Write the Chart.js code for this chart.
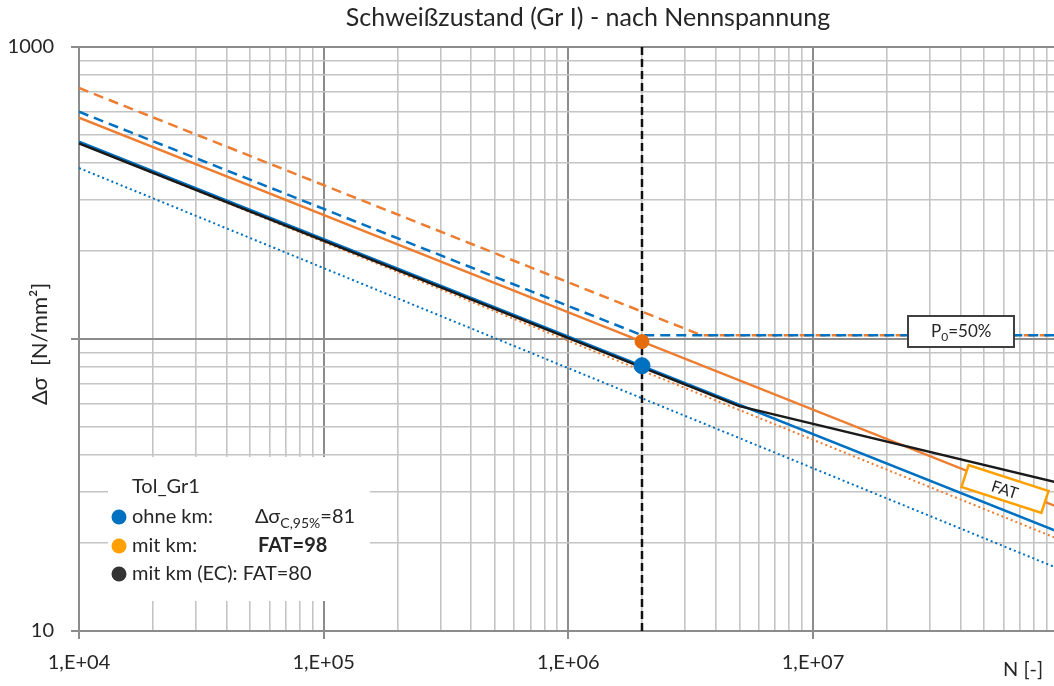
<!DOCTYPE html>
<html>
<head>
<meta charset="utf-8">
<script src="https://cdn.jsdelivr.net/npm/chart.js@4"></script>
<style>
  html, body { margin: 0; padding: 0; background: #fff; overflow: hidden; }
  #wrap { width: 1054px; height: 686px; }
</style>
</head>
<body>
<div id="wrap"><canvas id="snChart" width="1054" height="686"></canvas></div>
<script>
// values (N in cycles, stress range in N/mm²)
const nEnds = [1e4, 1e8];
const ohneKm95 = [474, 21.9];          // blue solid, Δσc,95% = 81
const mitKm95 = [573, 26.6];           // orange solid, FAT 98
const ecN = [1e4, 5e6, 1e8];
const ecFat80 = [468, 58.9, 32.2];     // black, EC curve with knee
const ohneKm50N = [1e4, 2e6, 1e8];
const ohneKm50 = [600, 103, 103];      // blue dashed, P0 = 50%
const mitKm50N = [1e4, 3.5e6, 1e8];
const mitKm50 = [724, 103, 103];       // orange dashed
const ohneKmDotted = [385, 16.4];      // blue dotted
const mitKmDotted = [469, 20.7];       // orange dotted
const nRef = 2e6;
const fatOhneKm = 81;
const fatMitKm = 98;
const xRange = [1e4, 9.66e7];          // axis stops just short of 1E+08
const yRange = [10, 1000];

const xTickLabels = { 1e4: '1,E+04', 1e5: '1,E+05', 1e6: '1,E+06', 1e7: '1,E+07' };
const yTickLabels = { 10: '10', 1000: '1000' };

const BLUE = '#0070c0';
const ORANGE = '#ed7d31';
const FONT = 'Lato, "Open Sans", sans-serif';

const pts = (xs, ys) => xs.map((x, i) => ({ x: x, y: ys[i] }));

function isDecade(v) {
    const l = Math.log10(v);
    return Math.abs(l - Math.round(l)) < 1e-6;
}

// 1..9 x 10^n gridlines between min and max
function logTicks(min, max) {
    const out = [];
    for (let e = Math.round(Math.log10(min)); Math.pow(10, e) <= max; e++) {
        for (let m = 1; m < 10; m++) {
            const v = m * Math.pow(10, e);
            if (v <= max * 1.0001) out.push({ value: v });
        }
    }
    return out;
}

const gridStyle = {
    color: c => isDecade(c.tick.value) ? '#8c8c8c' : '#c4c4c4',
    lineWidth: c => isDecade(c.tick.value) ? 2 : 1.6,
    tickColor: c => isDecade(c.tick.value) ? '#8c8c8c' : 'rgba(0,0,0,0)',
    tickLength: 8,
    drawTicks: true
};

// title, legend box and the two labels on the chart
const decorations = {
    id: 'decorations',
    afterDatasetsDraw(chart) {
        const ctx = chart.ctx;
        ctx.save();

        ctx.fillStyle = '#262626';
        ctx.font = '25px ' + FONT;
        ctx.textAlign = 'center';
        ctx.textBaseline = 'middle';
        ctx.fillText('Schweißzustand (Gr I) - nach Nennspannung', 588, 18);

        ctx.font = '20px ' + FONT;
        ctx.textAlign = 'left';
        ctx.fillText('N [-]', 1003, 670);

        ctx.save();
        ctx.translate(40, 344);
        ctx.rotate(-Math.PI / 2);
        ctx.textAlign = 'center';
        ctx.font = '22px ' + FONT;
        ctx.fillText('Δσ  [N/mm²]', 0, 0);
        ctx.restore();

        // legend box
        ctx.fillStyle = '#fff';
        ctx.fillRect(108, 457, 262, 144);
        ctx.fillStyle = '#262626';
        ctx.textAlign = 'left';
        ctx.font = '20px ' + FONT;
        ctx.fillText('Tol_Gr1', 132, 487);
        const rows = [
            { y: 517, color: BLUE, text: 'ohne km:' },
            { y: 546, color: '#ffa000', text: 'mit km:' },
            { y: 574, color: '#333333', text: 'mit km (EC): FAT=80' }
        ];
        rows.forEach(r => {
            ctx.fillStyle = r.color;
            ctx.beginPath();
            ctx.arc(119, r.y, 7.5, 0, Math.PI * 2);
            ctx.fill();
            ctx.fillStyle = '#262626';
            ctx.font = '20px ' + FONT;
            ctx.fillText(r.text, 132, r.y);
        });
        ctx.font = '20px ' + FONT;
        let x = 255;
        ctx.fillText('Δσ', x, 517);
        x += ctx.measureText('Δσ').width;
        ctx.font = '14px ' + FONT;
        ctx.fillText('C,95%', x, 523);
        x += ctx.measureText('C,95%').width;
        ctx.font = '20px ' + FONT;
        ctx.fillText('=' + fatOhneKm, x, 517);
        ctx.font = 'bold 20px ' + FONT;
        ctx.fillText('FAT=' + fatMitKm, 258, 546);

        // P0 = 50% box
        ctx.fillStyle = '#fff';
        ctx.fillRect(908, 316, 106, 31);
        ctx.strokeStyle = '#404040';
        ctx.lineWidth = 2;
        ctx.strokeRect(908, 316, 106, 31);
        ctx.fillStyle = '#262626';
        ctx.font = '17px ' + FONT;
        let px = 931;
        ctx.fillText('P', px, 332);
        px += ctx.measureText('P').width;
        ctx.font = '12px ' + FONT;
        ctx.fillText('0', px, 337);
        px += ctx.measureText('0').width;
        ctx.font = '17px ' + FONT;
        ctx.fillText('=50%', px, 332);

        // FAT box along the lines
        ctx.save();
        ctx.translate(1005, 489);
        ctx.rotate(18 * Math.PI / 180);
        ctx.fillStyle = '#fff';
        ctx.fillRect(-42, -11.5, 84, 23);
        ctx.strokeStyle = '#ffa000';
        ctx.lineWidth = 2.5;
        ctx.strokeRect(-42, -11.5, 84, 23);
        ctx.fillStyle = '#262626';
        ctx.font = '16px ' + FONT;
        ctx.textAlign = 'center';
        ctx.fillText('FAT', 0, 1);
        ctx.restore();

        ctx.restore();
    }
};

new Chart(document.getElementById('snChart'), {
    type: 'scatter',
    data: {
        datasets: [
            { data: pts([nRef], [fatOhneKm]), backgroundColor: BLUE, borderColor: BLUE, pointRadius: 8, showLine: false },
            { data: pts([nRef], [fatMitKm]), backgroundColor: '#e46c0a', borderColor: '#e46c0a', pointRadius: 7, showLine: false },
            { data: pts([nRef, nRef], yRange), borderColor: '#111', borderWidth: 2.5, borderDash: [8, 4], showLine: true, pointRadius: 0 },
            { data: pts(ecN, ecFat80), borderColor: '#1a1a1a', borderWidth: 2.5, showLine: true, pointRadius: 0 },
            { data: pts(nEnds, ohneKm95), borderColor: BLUE, borderWidth: 2.5, showLine: true, pointRadius: 0 },
            { data: pts(nEnds, mitKm95), borderColor: ORANGE, borderWidth: 2.5, showLine: true, pointRadius: 0 },
            { data: pts(nEnds, mitKmDotted), borderColor: ORANGE, borderWidth: 2, borderDash: [2, 3], showLine: true, pointRadius: 0 },
            { data: pts(nEnds, ohneKmDotted), borderColor: BLUE, borderWidth: 2, borderDash: [2, 3], showLine: true, pointRadius: 0 },
            { data: pts(ohneKm50N, ohneKm50), borderColor: BLUE, borderWidth: 2.5, borderDash: [10, 6], showLine: true, pointRadius: 0 },
            { data: pts(mitKm50N, mitKm50), borderColor: ORANGE, borderWidth: 2.5, borderDash: [10, 6], showLine: true, pointRadius: 0 }
        ]
    },
    options: {
        responsive: false,
        animation: false,
        devicePixelRatio: 1,
        layout: { autoPadding: false, padding: { top: 47, left: 0, right: 0, bottom: 0 } },
        plugins: {
            legend: { display: false },
            tooltip: { enabled: false }
        },
        scales: {
            x: {
                type: 'logarithmic',
                min: xRange[0],
                max: xRange[1],
                afterBuildTicks: s => { s.ticks = logTicks(xRange[0], xRange[1]); },
                afterFit: s => { s.height = 55; s.paddingLeft = 0; s.paddingRight = 0; },
                grid: gridStyle,
                border: { color: '#8c8c8c', width: 2 },
                ticks: {
                    autoSkip: false,
                    maxRotation: 0,
                    padding: 12,
                    color: '#262626',
                    font: { family: FONT, size: 20 },
                    callback: v => xTickLabels[v] || ''
                }
            },
            y: {
                type: 'logarithmic',
                min: yRange[0],
                max: yRange[1],
                afterBuildTicks: s => { s.ticks = logTicks(yRange[0], yRange[1]); },
                afterFit: s => { s.width = 79; },
                grid: gridStyle,
                border: { color: '#8c8c8c', width: 2 },
                ticks: {
                    autoSkip: false,
                    padding: 17,
                    color: '#262626',
                    font: { family: FONT, size: 20 },
                    callback: v => yTickLabels[v] || ''
                }
            }
        }
    },
    plugins: [decorations]
});
</script>
</body>
</html>
